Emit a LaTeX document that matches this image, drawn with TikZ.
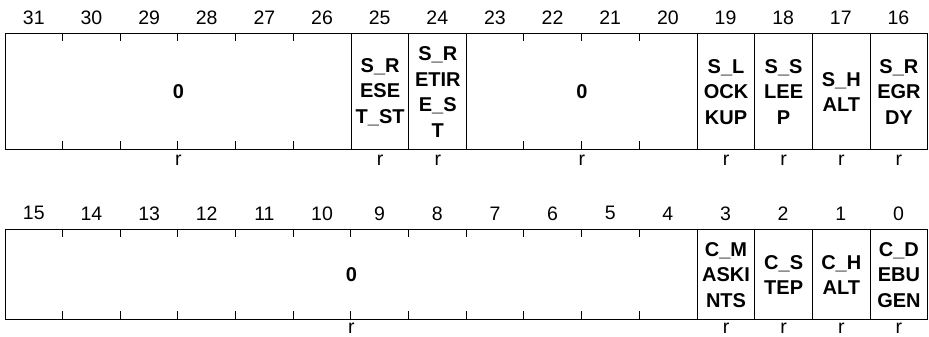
\documentclass[tikz,border=0pt]{standalone}
\usepackage{fontspec}
\setmainfont{Liberation Sans}
\begin{document}
\begin{tikzpicture}[x=1pt,y=-1pt,
  field/.style={draw, line width=1pt, anchor=north west, inner sep=0pt, align=center,
    font=\bfseries\fontsize{20}{25.5}\selectfont},
  bitnum/.style={font=\fontsize{19.5}{24}\selectfont, inner sep=0pt},
  acc/.style={font=\fontsize{19.5}{24}\selectfont, inner sep=0pt},
  tick/.style={line width=1pt}]
\useasboundingbox (0,0) rectangle (929,337);
\def\W{57.64}
\def\XO{5}
% ---------- top row ----------
\foreach \b in {31,...,16}
  \node[bitnum] (t\b) at ({\XO+(31-\b+0.5)*\W}, 17.3) {\b};
\def\Ta{33.3}\def\Th{116}
\node[field, minimum width={6*\W pt}, minimum height=\Th pt] (f3126) at (\XO,\Ta) {0};
\node[field, minimum width={\W pt}, minimum height=\Th pt] (f25) at ({\XO+6*\W},\Ta) {S\_R\\ESE\\T\_ST};
\node[field, minimum width={\W pt}, minimum height=\Th pt] (f24) at ({\XO+7*\W},\Ta) {S\_R\\ETIR\\E\_S\\T};
\node[field, minimum width={4*\W pt}, minimum height=\Th pt] (f2320) at ({\XO+8*\W},\Ta) {0};
\node[field, minimum width={\W pt}, minimum height=\Th pt] (f19) at ({\XO+12*\W},\Ta) {S\_L\\OCK\\KUP};
\node[field, minimum width={\W pt}, minimum height=\Th pt] (f18) at ({\XO+13*\W},\Ta) {S\_S\\LEE\\P};
\node[field, minimum width={\W pt}, minimum height=\Th pt] (f17) at ({\XO+14*\W},\Ta) {S\_H\\ALT};
\node[field, minimum width={\W pt}, minimum height=\Th pt] (f16) at ({\XO+15*\W},\Ta) {S\_R\\EGR\\DY};
\foreach \i in {1,...,5,9,10,11} {
  \draw[tick] ({\XO+\i*\W},\Ta) -- ++(0,8);
  \draw[tick] ({\XO+\i*\W},{\Ta+\Th}) -- ++(0,-8);
}
\node[acc] (r3126) at (f3126.center |- 0,160) {r};
\node[acc] (r25) at (f25.center |- 0,160) {r};
\node[acc] (r24) at (f24.center |- 0,160) {r};
\node[acc] (r2320) at (f2320.center |- 0,160) {r};
\node[acc] (r19) at (f19.center |- 0,160) {r};
\node[acc] (r18) at (f18.center |- 0,160) {r};
\node[acc] (r17) at (f17.center |- 0,160) {r};
\node[acc] (r16) at (f16.center |- 0,160) {r};
% ---------- bottom row ----------
\foreach \b in {15,...,0}
  \node[bitnum] (b\b) at ({\XO+(15-\b+0.5)*\W}, 213.3) {\b};
\def\Ba{229.3}\def\Bh{90}
\node[field, minimum width={12*\W pt}, minimum height=\Bh pt] (f154) at (\XO,\Ba) {0};
\node[field, minimum width={\W pt}, minimum height=\Bh pt] (f3) at ({\XO+12*\W},\Ba) {C\_M\\ASKI\\NTS};
\node[field, minimum width={\W pt}, minimum height=\Bh pt] (f2) at ({\XO+13*\W},\Ba) {C\_S\\TEP};
\node[field, minimum width={\W pt}, minimum height=\Bh pt] (f1) at ({\XO+14*\W},\Ba) {C\_H\\ALT};
\node[field, minimum width={\W pt}, minimum height=\Bh pt] (f0) at ({\XO+15*\W},\Ba) {C\_D\\EBU\\GEN};
\foreach \i in {1,...,11} {
  \draw[tick] ({\XO+\i*\W},\Ba) -- ++(0,8);
  \draw[tick] ({\XO+\i*\W},{\Ba+\Bh}) -- ++(0,-8);
}
\node[acc] (r154) at (f154.center |- 0,328) {r};
\node[acc] (r3) at (f3.center |- 0,328) {r};
\node[acc] (r2) at (f2.center |- 0,328) {r};
\node[acc] (r1) at (f1.center |- 0,328) {r};
\node[acc] (r0) at (f0.center |- 0,328) {r};
\end{tikzpicture}
\end{document}
